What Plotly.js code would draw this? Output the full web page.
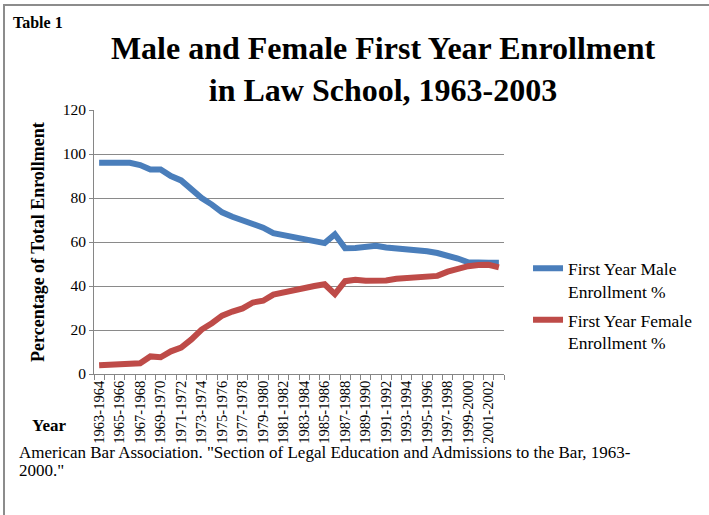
<!DOCTYPE html>
<html>
<head>
<meta charset="utf-8">
<script src="https://cdn.plot.ly/plotly-3.0.1.min.js"></script>
<style>
  html, body { margin: 0; padding: 0; background: #ffffff; }
  #wrap { position: relative; width: 709px; height: 515px; }
  #chart { position: absolute; left: 0; top: 0; width: 709px; height: 515px; }
  #frame { position: absolute; left: 3px; top: 4px; width: 710px; height: 520px;
           border-left: 2px solid #8c8c8c; border-top: 2px solid #8c8c8c; pointer-events: none; }
</style>
</head>
<body>
<div id="wrap">
  <div id="chart"></div>
  <div id="frame"></div>
</div>
<script>
// Academic years (categories)
const years = [
  "1963-1964","1964-1965","1965-1966","1966-1967","1967-1968","1968-1969","1969-1970","1970-1971",
  "1971-1972","1972-1973","1973-1974","1974-1975","1975-1976","1976-1977","1977-1978","1978-1979",
  "1979-1980","1980-1981","1981-1982","1982-1983","1983-1984","1984-1985","1985-1986","1986-1987",
  "1987-1988","1988-1989","1989-1990","1990-1991","1991-1992","1992-1993","1993-1994","1994-1995",
  "1995-1996","1996-1997","1997-1998","1998-1999","1999-2000","2000-2001","2001-2002","2002-2003"
];

// First year male enrollment (% of total)
const malePct = [
  96, 96, 96, 96, 95, 93, 93, 90,
  88, 84, 80, 77, 73.5, 71.5, 70, 68,
  66.5, 64, 63, 62, 61.5, 60.5, 59.5, 63.5,
  57.2, 57.3, 57.5, 58.3, 57.5, 57.2, 56.5, 56.2,
  55.8, 55, 54, 52.5, 50.8, 50.5, 50.6, 50.6
];

// First year female enrollment (% of total)
const femalePct = [
  4.0, 4.3, 4.4, 4.5, 4.9, 8.0, 7.6, 10.3,
  12.0, 15.7, 20.2, 23.1, 26.5, 28.4, 29.8, 32.5,
  33.3, 36.1, 37.2, 38.5, 39.2, 40.0, 40.8, 36.3,
  42.2, 42.8, 42.4, 42.3, 42.5, 43.3, 43.7, 44.0,
  44.2, 44.6, 46.5, 48.0, 49.0, 49.5, 49.6, 48.5
];

const seriesNames = ["First Year Male<br>Enrollment %", "First Year Female<br>Enrollment %"];
const yTicks = [0, 20, 40, 60, 80, 100, 120];

// show every other year label (as in the original)
const yearLabels = years.map((y, i) => (i % 2 === 0 ? y : ""));

const serif = "Liberation Serif, DejaVu Serif, serif";

const traces = [
  { x: years, y: malePct, type: "scatter", mode: "lines", name: seriesNames[0],
    legendgroup: "m", line: { color: "#4a7ebb", width: 6 } },
  { x: years, y: femalePct, type: "scatter", mode: "lines", name: seriesNames[1],
    legendgroup: "f", line: { color: "#be4b48", width: 6 } }
];

const layout = {
  width: 709, height: 515,
  paper_bgcolor: "#ffffff", plot_bgcolor: "#ffffff",
  margin: { l: 94, r: 204, t: 110, b: 141 },
  font: { family: serif, color: "#000000" },
  title: {
    text: "<b>Male and Female First Year Enrollment<br>in Law School, 1963-2003</b>",
    font: { family: serif, size: 32, color: "#000000" },
    x: 383 / 709, xanchor: "center", xref: "container",
    yref: "container", y: 1 - 59 / 515, yanchor: "top"
  },
  xaxis: {
    type: "category",
    tickmode: "array", tickvals: years, ticktext: yearLabels,
    tickangle: -90, tickson: "boundaries",
    ticks: "outside", ticklen: 5, tickcolor: "#868686",
    showline: true, linecolor: "#868686", linewidth: 1,
    showgrid: false, zeroline: false,
    tickfont: { family: serif, size: 14.5, color: "#000000" },
    range: [-0.5, years.length - 0.5], fixedrange: true
  },
  yaxis: {
    range: [0, 120], tickvals: yTicks,
    ticks: "outside", ticklen: 4, tickcolor: "#868686",
    showline: true, linecolor: "#868686", linewidth: 1,
    showgrid: true, gridcolor: "#8a8a8a", gridwidth: 1, zeroline: false,
    tickfont: { family: serif, size: 15.5, color: "#000000" },
    fixedrange: true
  },
  showlegend: true,
  legend: {
    x: 1.056, xanchor: "left", y: 0.468, yanchor: "top",
    font: { family: serif, size: 17.5, color: "#000000" },
    valign: "top", traceorder: "grouped", tracegroupgap: 3,
    bgcolor: "rgba(0,0,0,0)"
  },
  annotations: [
    { text: "<b>Table 1</b>", xref: "paper", yref: "paper", x: 0, xshift: -83, xanchor: "left",
      y: 1, yshift: 88, yanchor: "middle", showarrow: false,
      font: { family: serif, size: 16, color: "#000000" } },
    { text: "<b>Percentage of Total Enrollment</b>", textangle: -90,
      xref: "paper", yref: "paper", x: 0, xshift: -56, xanchor: "center",
      y: 0.5, yanchor: "middle", showarrow: false,
      font: { family: serif, size: 18, color: "#000000" } },
    { text: "<b>Year</b>", xref: "paper", yref: "paper", x: 0, xshift: -45, xanchor: "center",
      y: 0, yshift: -51, yanchor: "middle", showarrow: false,
      font: { family: serif, size: 17, color: "#000000" } },
    { text: "American Bar Association. \"Section of Legal Education and Admissions to the Bar, 1963-",
      xref: "paper", yref: "paper", x: 0, xshift: -77, xanchor: "left", align: "left",
      y: 0, yshift: -78, yanchor: "middle", showarrow: false,
      font: { family: serif, size: 17, color: "#000000" } },
    { text: "2000.\"",
      xref: "paper", yref: "paper", x: 0, xshift: -77, xanchor: "left", align: "left",
      y: 0, yshift: -96, yanchor: "middle", showarrow: false,
      font: { family: serif, size: 17, color: "#000000" } }
  ]
};

Plotly.newPlot("chart", traces, layout, { displayModeBar: false, staticPlot: true });
</script>
</body>
</html>
